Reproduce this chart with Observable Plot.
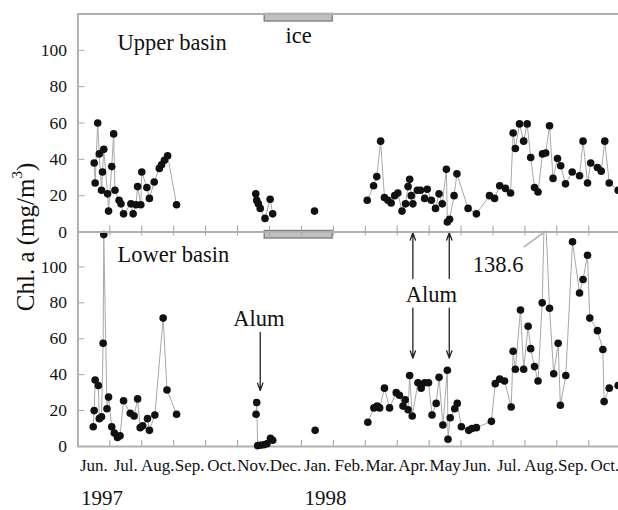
<!DOCTYPE html>
<html><head><meta charset="utf-8">
<script src="https://cdn.jsdelivr.net/npm/d3@7"></script>
<script src="https://cdn.jsdelivr.net/npm/@observablehq/plot@0.6"></script>
<style>
body{margin:0;background:#fff;}
#wrap{position:relative;width:618px;height:510px;overflow:hidden;background:#fff;}
#wrap svg{position:absolute;left:0;top:0;}
#wrap svg text{font-family:"Liberation Serif",serif;}
#wrap svg [aria-label="y-axis tick label"]{font-size:17.5px;}
#wrap svg [aria-label="x-axis tick label"]{font-size:17px;}
#ylab{position:absolute;left:25px;top:237px;transform:translate(-50%,-50%) rotate(-90deg);font-family:"Liberation Serif",serif;font-size:25px;white-space:nowrap;color:#111;line-height:1;}
#ylab sup{font-size:0.6em;vertical-align:0.75em;line-height:0;}
</style></head><body>
<div id="wrap"><div id="ylab">Chl. a (mg/m<sup>3</sup>)</div></div>
<script>
// time axis: months since 1 June 1997
const monthLabels = ["Jun.","Jul.","Aug.","Sep.","Oct.","Nov.","Dec.","Jan.","Feb.","Mar.","Apr.","May","Jun.","Jul.","Aug.","Sep.","Oct."];
const yearLabels = ["1997","1998"];
const yearStarts = [0, 7];
const yTicks = [0,20,40,60,80,100];

// Upper basin
const upperT = [0.51,0.54,0.62,0.67,0.74,0.77,0.81,0.93,0.96,1.06,1.12,1.16,1.29,1.35,1.43,1.66,1.73,1.82,1.87,1.97,2.00,2.16,2.24,2.39,2.55,2.62,2.71,2.81,3.09,
  5.57,5.60,5.65,5.71,5.86,6.02,6.10,7.41,
  9.06,9.26,9.36,9.48,9.60,9.71,9.81,9.92,10.02,10.15,10.26,10.34,10.39,10.44,10.49,10.63,10.73,10.86,10.94,11.07,11.20,11.31,11.41,11.54,11.57,11.64,11.78,11.87,12.22,12.48,
  12.89,13.05,13.21,13.39,13.55,13.63,13.70,13.83,13.96,14.07,14.18,14.30,14.41,14.55,14.65,14.77,14.88,15.02,15.12,15.27,15.48,15.71,15.82,15.96,16.06,16.27,16.39,16.50,16.64,16.92];
const upperV = [38,27,60,43,23,33,45.5,21,11.5,36,54,23,17.5,15.5,10,15.5,10,15,25,15,33,24.5,18.5,27.5,35,37,39.5,42,15,
  21,17.5,15.5,13,7.5,18,10,11.5,
  17.5,25.5,30.5,50,19,17.5,16,20,21.5,11.5,15.5,25,29,20,15.5,23,23,18.5,23.5,17.5,13,21,15.5,34.5,5.5,7,20,32,13,10,
  20,18.5,25.5,24,21.5,54.5,46,59.5,50,59.5,41,24.5,22,43,43.5,58.5,29.5,40.5,36.5,26.5,33,31,50,27,38,35.5,33.5,50,27,23];

// Lower basin
const lowerT = [0.48,0.51,0.54,0.64,0.67,0.74,0.79,0.81,0.91,0.96,1.06,1.14,1.24,1.32,1.43,1.64,1.76,1.87,1.95,2.03,2.18,2.24,2.41,2.67,2.79,3.09,
  5.58,5.60,5.63,5.71,5.82,5.92,6.03,6.10,7.43,
  9.08,9.27,9.37,9.45,9.60,9.76,9.97,10.07,10.18,10.25,10.34,10.39,10.47,10.65,10.75,10.86,10.98,11.09,11.22,11.31,11.43,11.57,11.59,11.66,11.80,11.88,12.01,12.24,12.34,12.48,
  12.95,13.07,13.21,13.36,13.57,13.63,13.70,13.86,13.96,14.10,14.18,14.30,14.41,14.54,14.62,14.77,14.90,15.04,15.11,15.28,15.49,15.71,15.82,15.96,16.03,16.27,16.44,16.48,16.64,16.92];
const lowerV = [11,20,37,34,15.5,16.5,57.5,118,21,27.5,11,7.5,5,6,25.5,18.5,17,26.5,10.5,11.5,15.5,9,17.5,71.5,31.5,18,
  18,24.5,0.5,0.7,1,1.5,4.5,3.5,9,
  13.5,21.5,22.5,21.5,32.5,21.5,30,28.5,22.5,26,20.5,39.5,17,35.5,32.5,35.5,35.5,17.5,24,38.5,12,42.5,4,16,21,24,11,9,10,10.5,
  14,35,37.5,36.5,22,53,43,76,43,67,54.5,44.5,36.5,80,138.6,77,40.5,57.5,23,39.5,114,85.5,93,106.5,71.5,64.5,54,25,32.5,34];

// annotations
const ice = [{start: 5.85, end: 7.98}];
const upperNotes = [{t: 1.24, v: 104, text: "Upper basin", anchor: "start"}, {t: 6.91, v: 108, text: "ice", anchor: "middle"}];
const lowerNotes = [{t: 1.24, v: 107, text: "Lower basin", anchor: "start"}, {t: 5.67, v: 71, text: "Alum", anchor: "middle"},
  {t: 11.07, v: 84.5, text: "Alum", anchor: "middle"}, {t: 13.16, v: 101.3, text: "138.6", anchor: "middle"}];
const alumArrows = [{t: 5.71, from: 63.6, to: 31.2}, {t: 10.49, from: 93.5, to: 119}, {t: 10.49, from: 77, to: 49.2},
  {t: 11.63, from: 93.5, to: 119}, {t: 11.63, from: 77, to: 49.2}];
const leader = [{t1: 13.96, v1: 111, t2: 14.62, v2: 119.5}];

const monthTicks = d3.range(1, 17);
const monthMid = monthLabels.map((_, i) => i + 0.5);

function rows(T, V) {
  let s = 0;
  return T.map((t, i) => { if (i > 0 && t - T[i - 1] > 1) s++; return {t, v: V[i], seg: s}; });
}

const W = 618, H = 510, ML = 77.4;
const FONT = "Liberation Serif";

function panel({T, V, top, bottom, notes, lower}) {
  const data = rows(T, V);
  const h = H - top - bottom;
  const marks = [
    Plot.rect(ice, {x1: "start", x2: "end", fill: "#c0c0c0", stroke: "#808080", strokeWidth: 1.4, insetBottom: h - 7.5}),
    Plot.tickY(yTicks, {y: d => d, stroke: "#a8a8a8", strokeWidth: 1, insetRight: W - ML - 7}),
    Plot.tickX(monthTicks, {x: d => d, stroke: "#a0a0a0", strokeWidth: 1, insetTop: h - 6}),
    Plot.ruleX([0], {stroke: "#b0b0b0", strokeWidth: 2}),
    Plot.ruleY([0], {stroke: "#b0b0b0", strokeWidth: 2}),
    Plot.line(data, {x: "t", y: "v", z: "seg", stroke: "#a8a8a8", strokeWidth: 1, clip: true}),
    Plot.dot(data.filter(d => d.v <= 120), {x: "t", y: "v", r: 3.8, fill: "#111", stroke: "none"}),
    Plot.axisY({ticks: yTicks, tickSize: 0, tickPadding: 11, fill: "#111", label: null}),
    Plot.text(notes.filter(d => d.anchor === "start"), {x: "t", y: "v", text: "text", textAnchor: "start", fontSize: 22.5, fontFamily: FONT, fill: "#111"}),
    Plot.text(notes.filter(d => d.anchor === "middle"), {x: "t", y: "v", text: "text", textAnchor: "middle", fontSize: 22.5, fontFamily: FONT, fill: "#111"})
  ];
  if (!lower) {
    marks.push(Plot.ruleY([120], {stroke: "#b0b0b0", strokeWidth: 2}));
  } else {
    marks.push(
      Plot.tickX(monthTicks, {x: d => d, stroke: "#a0a0a0", strokeWidth: 1, insetBottom: h - 5}),
      Plot.arrow(alumArrows, {x1: "t", x2: "t", y1: "from", y2: "to", stroke: "#222", strokeWidth: 1.3, headLength: 9, headAngle: 40}),
      Plot.link(leader, {x1: "t1", y1: "v1", x2: "t2", y2: "v2", stroke: "#b0b0b0", strokeWidth: 1.6}),
      Plot.axisX(monthMid, {tickFormat: d => monthLabels[Math.round(d - 0.5)], tickSize: 0, tickPadding: 12, fill: "#111", label: null}),
      Plot.text(yearStarts, {x: d => d, text: (d, i) => yearLabels[i], frameAnchor: "bottom", textAnchor: "start", lineAnchor: "bottom", dx: 3, dy: 58, fontSize: 21, fontFamily: FONT, fill: "#111"})
    );
  }
  return Plot.plot({
    width: W, height: H, marginLeft: ML, marginRight: 0, marginTop: top, marginBottom: bottom,
    x: {domain: [0, 16.93], label: null, ...(lower ? {} : {axis: null})},
    y: {domain: [0, 120], label: null},
    style: {background: "transparent", overflow: "visible"},
    marks
  });
}

const wrap = document.getElementById("wrap");
wrap.appendChild(panel({T: lowerT, V: lowerV, top: 230.5, bottom: 64, notes: lowerNotes, lower: true}));
wrap.appendChild(panel({T: upperT, V: upperV, top: 13.5, bottom: 278.5, notes: upperNotes, lower: false}));
</script>
</body></html>
